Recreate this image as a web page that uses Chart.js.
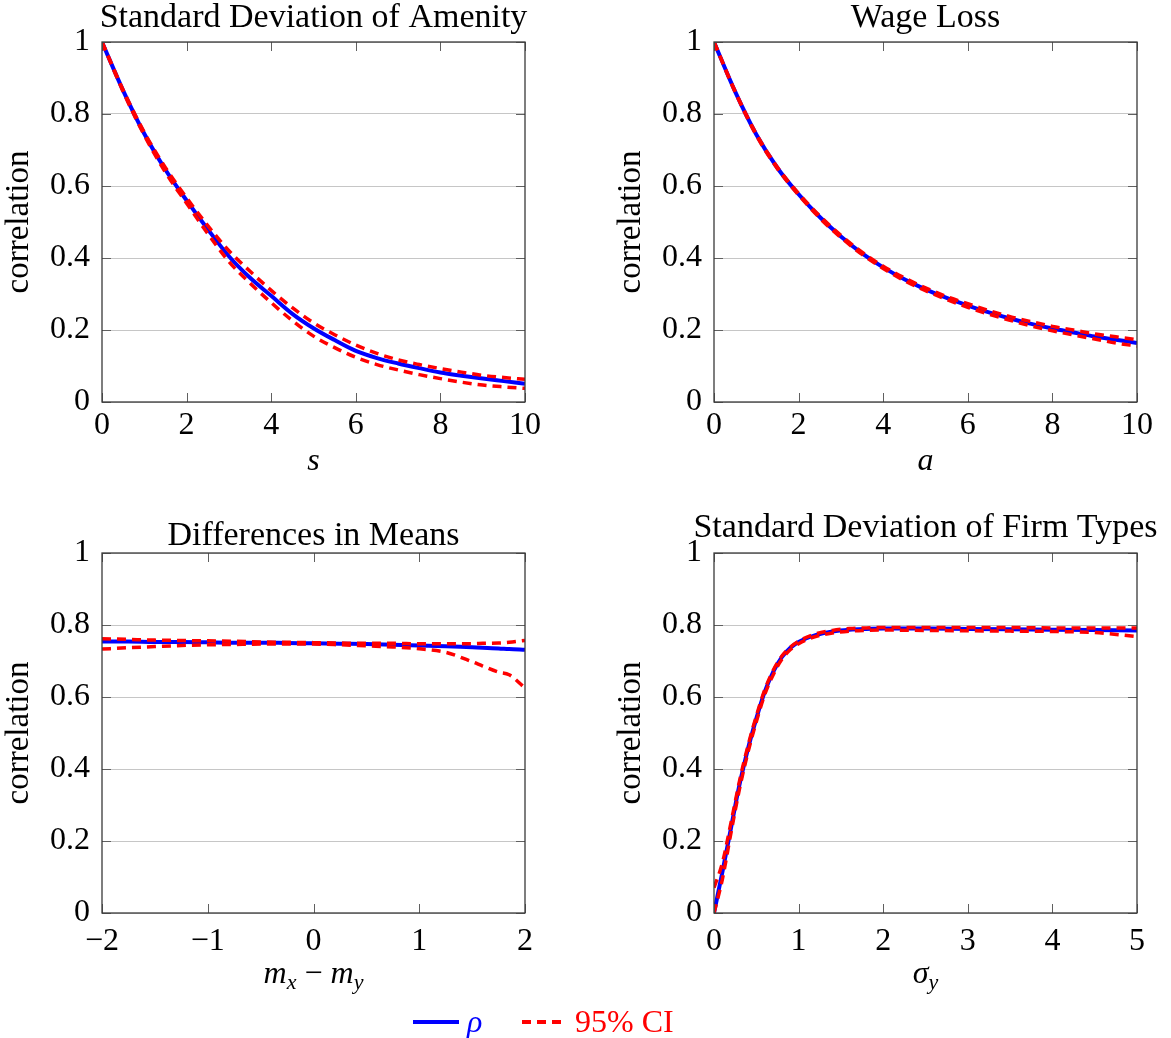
<!DOCTYPE html>
<html>
<head>
<meta charset="utf-8">
<title>Correlation panels</title>
<script src="https://cdn.jsdelivr.net/npm/chart.js@4.4.1/dist/chart.umd.min.js"></script>
<style>
  html, body { margin: 0; padding: 0; background: #fff; overflow: hidden; }
  body { position: relative; width: 1171px; height: 1038px; font-family: 'Liberation Serif', 'Times New Roman', serif; }
  .panel { position: absolute; width: 627px; }
  .legend-text { position: absolute; font-size: 32px; line-height: 32px; white-space: nowrap; }
  .legend-line { position: absolute; }
</style>
</head>
<body>
<div class="panel" style="left:0;top:0;height:490px"><canvas id="amenity"></canvas></div>
<div class="panel" style="left:612px;top:0;height:490px"><canvas id="wageLoss"></canvas></div>
<div class="panel" style="left:0;top:490px;height:515px"><canvas id="means"></canvas></div>
<div class="panel" style="left:612px;top:490px;height:515px"><canvas id="firmTypes"></canvas></div>

<div id="legend">
  <div class="legend-line" style="left:413px;top:1020px;width:46px;height:4px;background:#0000ff"></div>
  <span class="legend-text" style="left:467px;top:1005px;color:#0000ff;font-style:italic">ρ</span>
  <div class="legend-line" style="left:522px;top:1020px;width:9px;height:3.5px;background:#ff0000"></div>
  <div class="legend-line" style="left:537px;top:1020px;width:9px;height:3.5px;background:#ff0000"></div>
  <div class="legend-line" style="left:552px;top:1020px;width:9px;height:3.5px;background:#ff0000"></div>
  <span class="legend-text" style="left:575px;top:1005px;color:#ff0000">95% CI</span>
</div>

<script>
// Standard deviation of amenity (s)
const sValues = [0, 0.5, 1, 1.5, 2, 2.5, 3, 3.5, 4, 4.5, 5, 5.5, 6, 6.5, 7, 7.5, 8, 8.5, 9, 9.5, 10];
const rhoS = [1.0, 0.865, 0.745, 0.645, 0.56, 0.48, 0.405, 0.345, 0.295, 0.245, 0.205, 0.172, 0.142, 0.122, 0.107, 0.094, 0.082, 0.073, 0.065, 0.058, 0.051];
const upperS = [1.0, 0.867, 0.749, 0.651, 0.567, 0.49, 0.42, 0.363, 0.31, 0.262, 0.22, 0.187, 0.158, 0.135, 0.117, 0.104, 0.093, 0.083, 0.074, 0.068, 0.063];
const lowerS = [1.0, 0.862, 0.741, 0.638, 0.552, 0.468, 0.39, 0.33, 0.276, 0.226, 0.183, 0.151, 0.124, 0.104, 0.089, 0.076, 0.065, 0.055, 0.047, 0.042, 0.038];

// Wage loss (a)
const aValues = [0, 0.5, 1, 1.5, 2, 2.5, 3, 3.5, 4, 4.5, 5, 5.5, 6, 6.5, 7, 7.5, 8, 8.5, 9, 9.5, 10];
const rhoA = [1.0, 0.862, 0.743, 0.65, 0.577, 0.514, 0.46, 0.413, 0.374, 0.341, 0.313, 0.289, 0.268, 0.249, 0.232, 0.217, 0.204, 0.193, 0.182, 0.173, 0.164];
const upperA = [1.0, 0.863, 0.745, 0.652, 0.579, 0.517, 0.463, 0.416, 0.377, 0.345, 0.317, 0.293, 0.273, 0.254, 0.237, 0.223, 0.21, 0.2, 0.189, 0.181, 0.173];
const lowerA = [1.0, 0.861, 0.741, 0.648, 0.575, 0.511, 0.457, 0.41, 0.371, 0.337, 0.309, 0.285, 0.263, 0.244, 0.227, 0.211, 0.198, 0.186, 0.175, 0.164, 0.155];

// Differences in means (m_x - m_y)
const mValues = [-2, -1.75, -1.5, -1.25, -1, -0.75, -0.5, -0.25, 0, 0.25, 0.5, 0.75, 1, 1.25, 1.5, 1.6, 1.75, 1.85, 2];
const rhoM = [0.754, 0.754, 0.753, 0.753, 0.752, 0.751, 0.751, 0.75, 0.749, 0.748, 0.747, 0.745, 0.743, 0.741, 0.738, 0.737, 0.735, 0.733, 0.731];
const upperM = [0.762, 0.76, 0.758, 0.757, 0.756, 0.755, 0.753, 0.752, 0.751, 0.75, 0.749, 0.749, 0.748, 0.748, 0.748, 0.749, 0.75, 0.752, 0.757];
const lowerM = [0.733, 0.737, 0.74, 0.743, 0.745, 0.746, 0.747, 0.747, 0.747, 0.745, 0.742, 0.739, 0.734, 0.724, 0.698, 0.686, 0.669, 0.662, 0.625];

// Standard deviation of firm types (sigma_y)
const sigmaValues = [0, 0.1, 0.2, 0.3, 0.4, 0.5, 0.6, 0.7, 0.8, 0.9, 1.0, 1.2, 1.4, 1.6, 1.8, 2, 2.5, 3, 3.5, 4, 4.5, 5];
const rhoSigma = [0, 0.115, 0.235, 0.355, 0.455, 0.54, 0.615, 0.67, 0.71, 0.736, 0.753, 0.772, 0.782, 0.787, 0.789, 0.79, 0.79, 0.789, 0.788, 0.787, 0.786, 0.785];
const upperSigma = [0.07, 0.14, 0.25, 0.365, 0.463, 0.547, 0.62, 0.674, 0.713, 0.738, 0.755, 0.775, 0.785, 0.79, 0.792, 0.793, 0.793, 0.793, 0.793, 0.792, 0.792, 0.792];
const lowerSigma = [0.0, 0.095, 0.222, 0.343, 0.445, 0.531, 0.607, 0.662, 0.704, 0.731, 0.748, 0.768, 0.778, 0.783, 0.785, 0.786, 0.785, 0.784, 0.783, 0.782, 0.779, 0.768];

// axis labels (drawn with subscripts by the mathLabel plugin)
const sLabel = [{ text: "s", italic: true }];
const aLabel = [{ text: "a", italic: true }];
const mLabel = [
  { text: "m", italic: true },
  { text: "x", italic: true, sub: true },
  { text: " \u2212 " },
  { text: "m", italic: true },
  { text: "y", italic: true, sub: true },
];
const sigmaLabel = [
  { text: "σ", italic: true },
  { text: "y", italic: true, sub: true },
];

const serif = "'Liberation Serif', 'Times New Roman', serif";

const chartColors = {
  rho: "#0000ff",
  ci: "#ff0000",
  grid: "#c6c6c6",
  frame: "#3a3a3a",
  tick: "#606060",
};

Chart.defaults.font.family = serif;
Chart.defaults.font.size = 32;
Chart.defaults.color = "#000";

function toPoints(xs, ys) {
  return xs.map((x, i) => ({ x: x, y: ys[i] }));
}

// box around the plot area with short inward ticks (pgfplots look)
const framePlugin = {
  id: "frame",
  afterDatasetsDraw(chart) {
    const { ctx, chartArea: a, scales } = chart;
    const len = 9;
    ctx.save();
    ctx.strokeStyle = chartColors.tick;
    ctx.lineWidth = 1;
    ctx.beginPath();
    scales.x.ticks.forEach((t) => {
      const px = Math.round(scales.x.getPixelForValue(t.value)) + 0.5;
      ctx.moveTo(px, a.top);
      ctx.lineTo(px, a.top + len);
      ctx.moveTo(px, a.bottom);
      ctx.lineTo(px, a.bottom - len);
    });
    scales.y.ticks.forEach((t) => {
      const py = Math.round(scales.y.getPixelForValue(t.value)) + 0.5;
      ctx.moveTo(a.left, py);
      ctx.lineTo(a.left + len, py);
      ctx.moveTo(a.right, py);
      ctx.lineTo(a.right - len, py);
    });
    ctx.stroke();
    ctx.strokeStyle = chartColors.frame;
    ctx.lineWidth = 1.3;
    ctx.strokeRect(a.left, a.top, a.right - a.left, a.bottom - a.top);
    ctx.restore();
  },
};

// x axis label with italic letters and subscripts
const mathLabelPlugin = {
  id: "mathLabel",
  afterDraw(chart, args, opts) {
    const parts = opts.parts || [];
    const { ctx, chartArea } = chart;
    const fontFor = (p) => `${p.italic ? "italic " : ""}${p.sub ? 22 : 32}px ${serif}`;
    ctx.save();
    let width = 0;
    parts.forEach((p) => {
      ctx.font = fontFor(p);
      width += ctx.measureText(p.text).width;
    });
    let x = (chartArea.left + chartArea.right) / 2 - width / 2;
    const y = chartArea.bottom + opts.offset;
    ctx.fillStyle = "#000";
    ctx.textAlign = "left";
    ctx.textBaseline = "alphabetic";
    parts.forEach((p) => {
      ctx.font = fontFor(p);
      ctx.fillText(p.text, x, p.sub ? y + 6 : y);
      x += ctx.measureText(p.text).width;
    });
    ctx.restore();
  },
};

function makePanel(canvasId, cfg) {
  const ctx = document.getElementById(canvasId).getContext("2d");
  return new Chart(ctx, {
    type: "line",
    data: {
      datasets: [
        {
          label: "95% CI",
          data: toPoints(cfg.xs, cfg.upper),
          borderColor: chartColors.ci,
          borderWidth: 3.5,
          borderDash: [9, 6],
          order: 0,
        },
        {
          label: "95% CI (lower)",
          data: toPoints(cfg.xs, cfg.lower),
          borderColor: chartColors.ci,
          borderWidth: 3.5,
          borderDash: [9, 6],
          order: 0,
        },
        {
          label: "ρ",
          data: toPoints(cfg.xs, cfg.rho),
          borderColor: chartColors.rho,
          borderWidth: 4,
          order: 1,
        },
      ],
    },
    options: {
      responsive: true,
      maintainAspectRatio: false,
      animation: false,
      layout: { padding: 0 },
      elements: {
        point: { radius: 0 },
        line: { cubicInterpolationMode: "monotone", fill: false },
      },
      plugins: {
        legend: { display: false },
        tooltip: { enabled: false },
        title: {
          display: true,
          text: cfg.title,
          color: "#000",
          font: { size: 34, weight: "normal", lineHeight: 1 },
          padding: { top: cfg.titleTop, bottom: cfg.titleBottom },
        },
        mathLabel: { parts: cfg.xLabel, offset: cfg.labelOffset },
      },
      scales: {
        x: {
          type: "linear",
          min: cfg.xMin,
          max: cfg.xMax,
          ticks: {
            stepSize: cfg.xStep,
            padding: cfg.tickPad,
            maxRotation: 0,
            autoSkip: false,
            callback: (v) => String(v).replace("-", "\u2212"),
          },
          grid: { display: false, drawTicks: false },
          border: { display: false },
          afterFit: (scale) => {
            scale.height = cfg.xAxisHeight;
          },
        },
        y: {
          min: 0,
          max: 1,
          ticks: {
            stepSize: 0.2,
            padding: 12,
            callback: (v) => String(Math.round(v * 10) / 10),
          },
          grid: { color: chartColors.grid, lineWidth: 1, drawTicks: false },
          border: { display: false },
          title: {
            display: true,
            text: "correlation",
            font: { size: 33, lineHeight: 1.2 },
            padding: { top: 0, bottom: 0 },
          },
          afterFit: (scale) => {
            scale.width = 102;
          },
        },
        // empty right-hand strip so the title centres over the plot box
        yRight: {
          position: "right",
          display: true,
          ticks: { display: false },
          grid: { display: false, drawTicks: false },
          border: { display: false },
          afterFit: (scale) => {
            scale.width = 102;
          },
        },
      },
    },
    plugins: [framePlugin, mathLabelPlugin],
  });
}

makePanel("amenity", {
  title: "Standard Deviation of Amenity",
  xs: sValues, rho: rhoS, upper: upperS, lower: lowerS,
  xMin: 0, xMax: 10, xStep: 2, xLabel: sLabel,
  titleTop: 1, titleBottom: 7, xAxisHeight: 88, tickPad: 4, labelOffset: 68,
});

makePanel("wageLoss", {
  title: "Wage Loss",
  xs: aValues, rho: rhoA, upper: upperA, lower: lowerA,
  xMin: 0, xMax: 10, xStep: 2, xLabel: aLabel,
  titleTop: 1, titleBottom: 7, xAxisHeight: 88, tickPad: 4, labelOffset: 68,
});

makePanel("means", {
  title: "Differences in Means",
  xs: mValues, rho: rhoM, upper: upperM, lower: lowerM,
  xMin: -2, xMax: 2, xStep: 1, xLabel: mLabel,
  titleTop: 29, titleBottom: 0, xAxisHeight: 92, tickPad: 9, labelOffset: 70,
});

makePanel("firmTypes", {
  title: "Standard Deviation of Firm Types",
  xs: sigmaValues, rho: rhoSigma, upper: upperSigma, lower: lowerSigma,
  xMin: 0, xMax: 5, xStep: 1, xLabel: sigmaLabel,
  titleTop: 21, titleBottom: 8, xAxisHeight: 92, tickPad: 9, labelOffset: 70,
});
</script>
</body>
</html>
